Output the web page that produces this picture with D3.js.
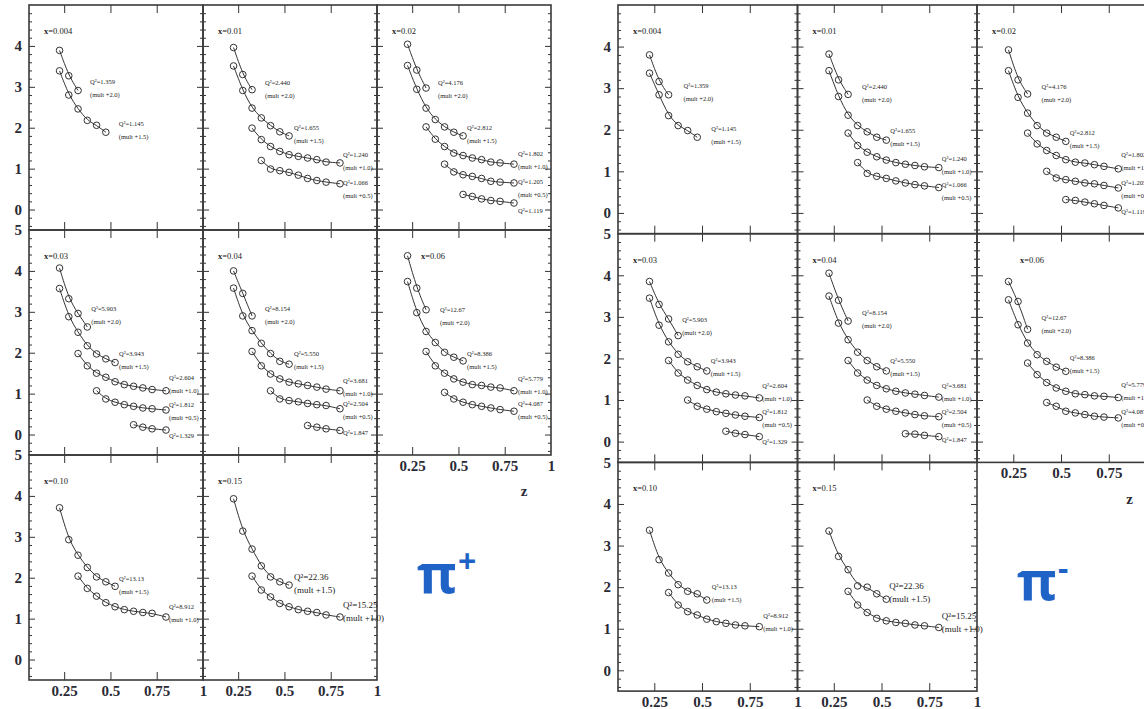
<!DOCTYPE html>
<html>
<head>
<meta charset="utf-8">
<script src="https://cdn.jsdelivr.net/npm/d3@7"></script>
<style>
  body { margin: 0; background: #fff; }
  svg { display: block; }
</style>
</head>
<body>
<svg id="chart" width="1144" height="709"></svg>
<script>
// ---------- data ----------
// z bin centres shared by every curve
const zBins = [0.225, 0.275, 0.325, 0.375, 0.425, 0.475, 0.525, 0.575, 0.625, 0.675, 0.725, 0.8];
const xBinLabels = ["0.004", "0.01", "0.02", "0.03", "0.04", "0.06", "0.10", "0.15"];
const yTickValues = [0, 1, 2, 3, 4, 5];
const zTickValues = [0.25, 0.5, 0.75, 1];
const zTickLabels = ["0.25", "0.5", "0.75", "1"];

// each row: [panel, Q², multiplier, first z bin, plotted values]
const piPlusSeries = [
  [0, "1.359", "+2.0", 0, [3.89, 3.27, 2.91]],
  [0, "1.145", "+1.5", 0, [3.39, 2.80, 2.46, 2.18, 2.06, 1.89]],
  [1, "2.440", "+2.0", 0, [3.96, 3.30, 2.93]],
  [1, "1.655", "+1.5", 0, [3.51, 2.91, 2.48, 2.24, 2.05, 1.90, 1.80]],
  [1, "1.240", "+1.0", 2, [1.99, 1.71, 1.54, 1.42, 1.34, 1.30, 1.26, 1.22, 1.16, 1.14]],
  [1, "1.066", "+0.5", 3, [1.20, 0.99, 0.95, 0.91, 0.84, 0.76, 0.71, 0.67, 0.63]],
  [2, "4.176", "+2.0", 0, [4.04, 3.41, 2.97]],
  [2, "2.812", "+1.5", 0, [3.52, 2.94, 2.48, 2.20, 2.02, 1.89, 1.80]],
  [2, "1.802", "+1.0", 2, [2.02, 1.72, 1.54, 1.38, 1.32, 1.26, 1.22, 1.16, 1.14, 1.11]],
  [2, "1.205", "+0.5", 4, [1.11, 0.92, 0.85, 0.81, 0.76, 0.69, 0.67, 0.65]],
  [2, "1.119", "", 6, [0.37, 0.32, 0.26, 0.22, 0.20, 0.16]],
  [3, "5.903", "+2.0", 0, [4.07, 3.32, 2.96, 2.63]],
  [3, "3.943", "+1.5", 0, [3.57, 2.88, 2.50, 2.17, 1.97, 1.85, 1.76]],
  [3, "2.604", "+1.0", 2, [1.98, 1.68, 1.50, 1.40, 1.29, 1.22, 1.18, 1.14, 1.10, 1.07]],
  [3, "1.812", "+0.5", 4, [1.07, 0.87, 0.79, 0.73, 0.69, 0.65, 0.63, 0.60]],
  [3, "1.329", "", 8, [0.24, 0.18, 0.14, 0.11]],
  [4, "8.154", "+2.0", 0, [4.00, 3.45, 2.90]],
  [4, "5.550", "+1.5", 0, [3.58, 2.90, 2.54, 2.23, 1.98, 1.79, 1.72]],
  [4, "3.681", "+1.0", 2, [2.03, 1.68, 1.48, 1.36, 1.28, 1.24, 1.20, 1.16, 1.11, 1.07]],
  [4, "2.504", "+0.5", 4, [1.07, 0.87, 0.83, 0.80, 0.76, 0.73, 0.71, 0.63]],
  [4, "1.847", "", 8, [0.22, 0.18, 0.14, 0.10]],
  [5, "12.67", "+2.0", 0, [4.37, 3.58, 3.05]],
  [5, "8.386", "+1.5", 0, [3.74, 2.98, 2.52, 2.25, 2.01, 1.89, 1.80]],
  [5, "5.779", "+1.0", 2, [2.03, 1.68, 1.50, 1.36, 1.28, 1.22, 1.20, 1.16, 1.14, 1.07]],
  [5, "4.087", "+0.5", 4, [1.03, 0.87, 0.79, 0.73, 0.69, 0.65, 0.61, 0.57]],
  [6, "13.13", "+1.5", 0, [3.71, 2.93, 2.55, 2.25, 2.02, 1.90, 1.79]],
  [6, "8.912", "+1.0", 2, [2.04, 1.74, 1.55, 1.39, 1.29, 1.22, 1.18, 1.15, 1.13, 1.04]],
  [7, "22.36", "+1.5", 0, [3.93, 3.14, 2.70, 2.29, 2.02, 1.90, 1.82]],
  [7, "15.25", "+1.0", 2, [2.04, 1.70, 1.53, 1.37, 1.29, 1.22, 1.18, 1.15, 1.09, 1.04]]
];

const piMinusSeries = [
  [0, "1.359", "+2.0", 0, [3.80, 3.16, 2.84]],
  [0, "1.145", "+1.5", 0, [3.36, 2.84, 2.34, 2.10, 1.98, 1.82]],
  [1, "2.440", "+2.0", 0, [3.82, 3.20, 2.85]],
  [1, "1.655", "+1.5", 0, [3.42, 2.80, 2.35, 2.10, 1.95, 1.82, 1.75]],
  [1, "1.240", "+1.0", 2, [1.92, 1.62, 1.46, 1.35, 1.27, 1.21, 1.17, 1.14, 1.11, 1.09]],
  [1, "1.066", "+0.5", 3, [1.21, 0.95, 0.88, 0.83, 0.77, 0.72, 0.68, 0.65, 0.61]],
  [2, "4.176", "+2.0", 0, [3.92, 3.20, 2.86]],
  [2, "2.812", "+1.5", 0, [3.42, 2.78, 2.40, 2.10, 1.92, 1.82, 1.72]],
  [2, "1.802", "+1.0", 2, [1.92, 1.66, 1.50, 1.38, 1.28, 1.22, 1.20, 1.16, 1.12, 1.06]],
  [2, "1.205", "+0.5", 4, [1.00, 0.84, 0.80, 0.76, 0.72, 0.70, 0.66, 0.60]],
  [2, "1.119", "", 6, [0.32, 0.30, 0.26, 0.22, 0.18, 0.12]],
  [3, "5.903", "+2.0", 0, [3.85, 3.30, 2.95, 2.55]],
  [3, "3.943", "+1.5", 0, [3.45, 2.80, 2.40, 2.10, 1.92, 1.80, 1.70]],
  [3, "2.604", "+1.0", 2, [1.95, 1.65, 1.48, 1.35, 1.25, 1.19, 1.15, 1.12, 1.10, 1.05]],
  [3, "1.812", "+0.5", 4, [1.00, 0.85, 0.78, 0.72, 0.68, 0.64, 0.61, 0.58]],
  [3, "1.329", "", 8, [0.25, 0.20, 0.17, 0.12]],
  [4, "8.154", "+2.0", 0, [4.05, 3.40, 2.90]],
  [4, "5.550", "+1.5", 0, [3.50, 2.85, 2.45, 2.15, 1.95, 1.80, 1.70]],
  [4, "3.681", "+1.0", 2, [1.95, 1.65, 1.48, 1.35, 1.27, 1.21, 1.17, 1.14, 1.11, 1.07]],
  [4, "2.504", "+0.5", 4, [1.00, 0.85, 0.78, 0.73, 0.69, 0.65, 0.62, 0.60]],
  [4, "1.847", "", 8, [0.19, 0.18, 0.15, 0.12]],
  [5, "12.67", "+2.0", 0, [3.85, 3.37, 2.70]],
  [5, "8.386", "+1.5", 0, [3.41, 2.81, 2.37, 2.09, 1.93, 1.79, 1.69]],
  [5, "5.779", "+1.0", 2, [1.89, 1.61, 1.42, 1.29, 1.21, 1.15, 1.13, 1.10, 1.09, 1.06]],
  [5, "4.087", "+0.5", 4, [0.94, 0.85, 0.73, 0.69, 0.65, 0.61, 0.59, 0.57]],
  [6, "13.13", "+1.5", 0, [3.37, 2.66, 2.34, 2.06, 1.90, 1.84, 1.69]],
  [6, "8.912", "+1.0", 2, [1.87, 1.57, 1.41, 1.33, 1.23, 1.17, 1.13, 1.09, 1.07, 1.05]],
  [7, "22.36", "+1.5", 0, [3.35, 2.74, 2.42, 2.03, 2.00, 1.84, 1.71]],
  [7, "15.25", "+1.0", 2, [1.90, 1.57, 1.39, 1.25, 1.19, 1.15, 1.13, 1.09, 1.07, 1.03]]
];

// ---------- layout ----------
// label offsets in pixels from each curve's last point: [dx, dy of the Q² line]
const piPlusLabelShift = [
  [12, -9], [13, -9],
  [13, -7], [5, -8], [3, -8], [3, -1],
  [12, -5], [4, -8], [4, -10], [4, -1], [4, 8],
  [4, -18], [4, -9], [3, -13], [3, -5], [3, 6],
  [13, -7], [5, -10], [3, -10], [3, -5], [3, 2],
  [14, 0], [4, -7], [4, -12], [4, -8],
  [4, -8], [3, -10],
  [5, -8], [3, -12]
];
const piMinusLabelShift = [
  [15, -9], [14, -9],
  [14, -8], [4, -9], [3, -9], [3, -3],
  [14, -7], [4, -9], [3, -14], [3, -5], [3, 4],
  [4, -16], [4, -10], [3, -12], [3, -6], [3, 5],
  [14, -8], [4, -10], [3, -11], [3, -5], [3, 3],
  [14, -12], [4, -14], [3, -13], [3, -6],
  [5, -13], [4, -11],
  [3, -13], [3, -12]
];

const frames = [
  { id: "plus", lefts: [29, 203, 377], top: 5, colW: 174, rowH: 225,
    sign: "+", series: piPlusSeries, shift: piPlusLabelShift, tag06: 44 },
  { id: "minus", lefts: [618, 797.5, 977], top: 5, colW: 179.5, rowH: 228.7,
    sign: "-", series: piMinusSeries, shift: piMinusLabelShift, tag06: 43 }
];

const zDomain = [0.06, 1.0];
const yDomain = [-0.5, 5];
const serif = "'Liberation Serif', 'DejaVu Serif', serif";
const ink = "#333";

const svg = d3.select("#chart");
const defs = svg.append("defs");

const minorY = d3.range(-2, 25).filter(k => k % 5 !== 0).map(k => k / 5);
const majorY = [0, 1, 2, 3, 4];
const innerZ = [0.25, 0.5, 0.75];

function styleAxis(sel) {
  sel.select(".domain").remove();
  sel.selectAll(".tick line").attr("stroke", ink).attr("stroke-width", 1);
}

frames.forEach(fr => {
  const fg = svg.append("g").attr("class", "figure-" + fr.id);

  d3.range(8).forEach(p => {
    const row = Math.floor(p / 3), col = p % 3;
    const x0 = fr.lefts[col], y0 = fr.top + row * fr.rowH;
    const x1 = x0 + fr.colW, y1 = y0 + fr.rowH;
    const xs = d3.scaleLinear().domain(zDomain).range([x0, x1]);
    const ys = d3.scaleLinear().domain(yDomain).range([y1, y0]);
    const pg = fg.append("g").attr("class", "panel");

    // inward ticks on all four sides
    pg.append("g").attr("transform", `translate(${x0},0)`)
      .call(d3.axisLeft(ys).tickValues(minorY).tickSize(-3).tickFormat("")).call(styleAxis);
    pg.append("g").attr("transform", `translate(${x0},0)`)
      .call(d3.axisLeft(ys).tickValues(majorY).tickSize(-6).tickFormat("")).call(styleAxis);
    pg.append("g").attr("transform", `translate(${x1},0)`)
      .call(d3.axisRight(ys).tickValues(minorY).tickSize(-3).tickFormat("")).call(styleAxis);
    pg.append("g").attr("transform", `translate(${x1},0)`)
      .call(d3.axisRight(ys).tickValues(majorY).tickSize(-6).tickFormat("")).call(styleAxis);
    pg.append("g").attr("transform", `translate(0,${y0})`)
      .call(d3.axisTop(xs).tickValues(innerZ).tickSize(-8).tickFormat("")).call(styleAxis);
    pg.append("g").attr("transform", `translate(0,${y1})`)
      .call(d3.axisBottom(xs).tickValues(innerZ).tickSize(-8).tickFormat("")).call(styleAxis);

    pg.append("rect")
      .attr("x", x0).attr("y", y0).attr("width", fr.colW).attr("height", fr.rowH)
      .attr("fill", "none").attr("stroke", "#3a3a3a").attr("stroke-width", 1.6);

    // y tick labels on the first column
    if (col === 0) {
      const vals = row === 0 ? yTickValues.slice(0, 5) : yTickValues;
      const ay = pg.append("g").attr("transform", `translate(${x0},0)`)
        .call(d3.axisLeft(ys).tickValues(vals).tickSize(0).tickPadding(7).tickFormat(d3.format("d")));
      ay.select(".domain").remove();
      ay.selectAll("text").attr("font-family", serif).attr("font-size", 15)
        .attr("font-weight", "bold").attr("fill", "#2a2a35");
    }

    // z tick labels below the lowest panel of each column
    if ((col < 2 && row === 2) || (col === 2 && row === 1)) {
      const ax = pg.append("g").attr("transform", `translate(0,${y1})`)
        .call(d3.axisBottom(xs).tickValues(zTickValues).tickSize(0).tickPadding(5)
          .tickFormat((d, i) => zTickLabels[i]));
      ax.select(".domain").remove();
      ax.selectAll("text").attr("font-family", serif).attr("font-size", 15)
        .attr("font-weight", "bold").attr("fill", "#2a2a35");
    }

    // panel tag
    const tagX = p === 5 ? fr.tag06 : 15;
    const tag = pg.append("text").attr("x", x0 + tagX).attr("y", y0 + 26).attr("dy", "0.35em")
      .attr("font-family", serif).attr("font-size", 8.5).attr("fill", "#222");
    tag.append("tspan").attr("font-weight", "bold").text("x");
    tag.append("tspan").text("=" + xBinLabels[p]);

    // clip for curve annotations
    const clipId = `clip-${fr.id}-${p}`;
    defs.append("clipPath").attr("id", clipId).append("rect")
      .attr("x", x0 - 200).attr("y", y0).attr("width", fr.colW + 201).attr("height", fr.rowH);

    const line = d3.line().x(d => xs(d[0])).y(d => ys(d[1])).curve(d3.curveBasis);
    const notes = pg.append("g");
    if (p !== 7) notes.attr("clip-path", `url(#${clipId})`);
    const fs = p === 7 ? 9 : 6.5;

    fr.series.forEach((s, si) => {
      if (s[0] !== p) return;
      const pts = s[4].map((v, k) => [zBins[s[3] + k], v]);
      pg.append("path").datum(pts).attr("d", line)
        .attr("fill", "none").attr("stroke", ink).attr("stroke-width", 1);
      pg.selectAll(null).data(pts).enter().append("circle")
        .attr("cx", d => xs(d[0])).attr("cy", d => ys(d[1])).attr("r", 3.3)
        .attr("fill", "none").attr("stroke", ink).attr("stroke-width", 1);

      const last = pts[pts.length - 1];
      const [dx, dy] = fr.shift[si];
      const lx = xs(last[0]) + dx, ly = ys(last[1]) + dy;
      notes.append("text").attr("x", lx).attr("y", ly).attr("dy", "0.35em")
        .attr("font-family", serif).attr("font-size", fs).attr("fill", "#222")
        .text("Q²=" + s[1]);
      if (s[2]) {
        notes.append("text").attr("x", lx).attr("y", ly + 13).attr("dy", "0.35em")
          .attr("font-family", serif).attr("font-size", fs).attr("fill", "#222")
          .text("(mult " + s[2] + ")");
      }
    });
  });

  // axis title and particle label
  const right = fr.lefts[2] + fr.colW;
  const bottom2 = fr.top + 2 * fr.rowH;
  fg.append("text").attr("x", right - 27).attr("y", bottom2 + 36).attr("dy", "0.35em")
    .attr("text-anchor", "middle").attr("font-family", serif).attr("font-size", 15)
    .attr("font-weight", "bold").attr("fill", "#2a2a35").text("z");

  const pi = fg.append("text").attr("x", fr.lefts[2] + 40).attr("y", bottom2 + 138)
    .attr("font-family", "'Open Sans', 'DejaVu Sans', sans-serif").attr("font-weight", "bold")
    .attr("font-size", 54).attr("fill", "#1f63c6");
  pi.append("tspan").text("π");
  pi.append("tspan").attr("font-size", 32).attr("dy", -20).attr("dx", 1)
    .text(fr.sign === "+" ? "+" : "-");
});
</script>
</body>
</html>
